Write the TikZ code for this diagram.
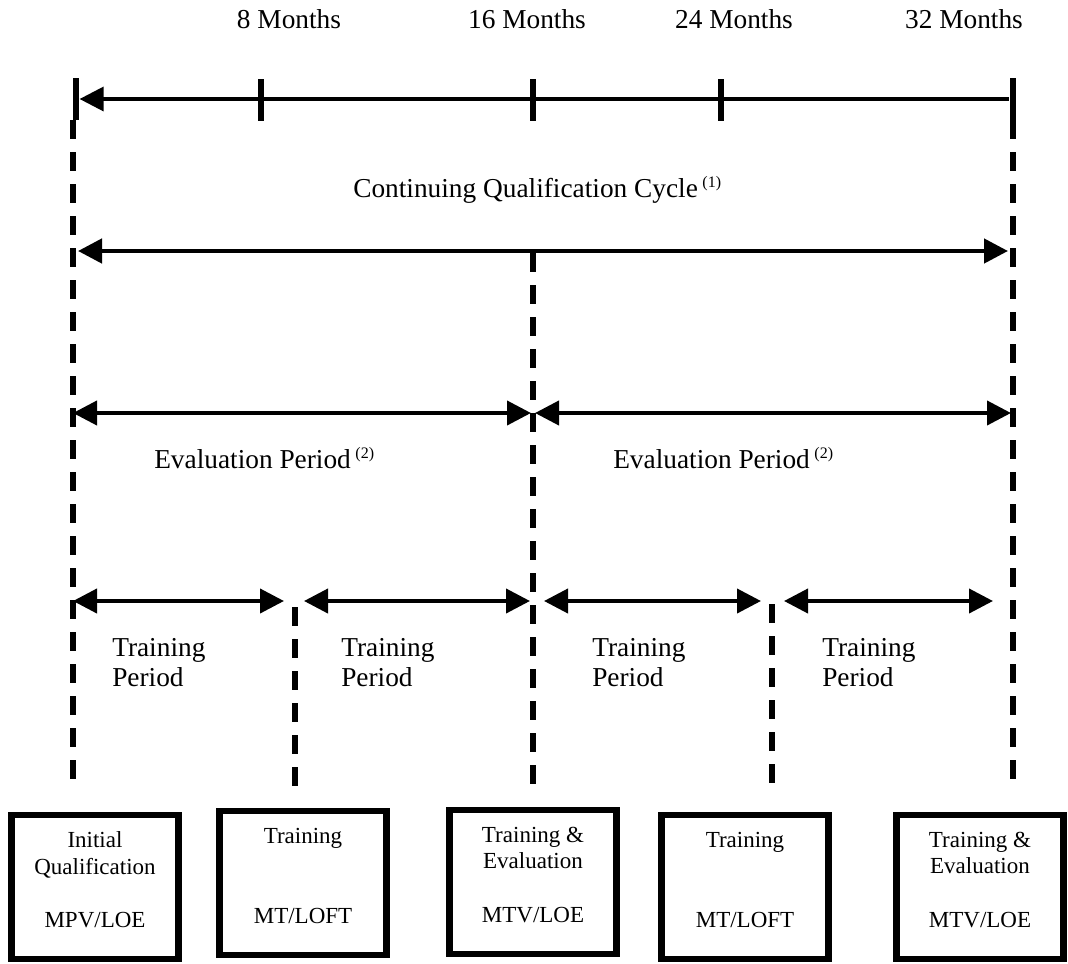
\documentclass[tikz,border=0pt]{standalone}
\usepackage{fontspec}
\setmainfont{Liberation Serif}
\usetikzlibrary{arrows.meta}
\newcommand{\supnote}[1]{\,\raisebox{7.5pt}{\fontsize{12}{14}\selectfont(#1)}}

\begin{document}
\begin{tikzpicture}[x=0.75pt,y=-0.75pt,font=\fontsize{20.5}{22.5}\selectfont,
    >={Triangle[length=18pt,width=18pt]},
    tickmark/.style={fill,inner sep=0pt,minimum width=5pt,minimum height=32pt},
    guide/.style={line width=5pt,dash pattern=on 14.5pt off 9.5pt},
    span/.style={<->,line width=3pt},
    lbl/.style={inner sep=0pt},
    stage/.style={draw,line width=5pt,minimum width=125pt,minimum height=108pt,
        align=center,font=\fontsize{17.25}{20}\selectfont,text depth=11pt}]

    \useasboundingbox (0,0) rectangle (1068,964);

    % month labels
    \node[lbl, anchor=base] (l8)  at (289,28) {8 Months};
    \node[lbl, anchor=base] (l16) at (527,28) {16 Months};
    \node[lbl, anchor=base] (l24) at (734,28) {24 Months};
    \node[lbl, anchor=base] (l32) at (964,28) {32 Months};

    % time line ticks
    \node[tickmark] (m0)  at (76,99) {};
    \node[tickmark] (m8)  at (261,100) {};
    \node[tickmark] (m16) at (533,100) {};
    \node[tickmark] (m24) at (721,100) {};
    \node[tickmark] (m32) at (1013,99) {};

    % ends of the dashed guides
    \coordinate (g0t)  at (73,120);   \coordinate (g0b)  at (73,782);
    \coordinate (g8t)  at (295,607);  \coordinate (g8b)  at (295,787);
    \coordinate (g16t) at (533,253);  \coordinate (g16b) at (533,790);
    \coordinate (g24t) at (772,604);  \coordinate (g24b) at (772,785);
    \coordinate (g32t) at (1013,120); \coordinate (g32b) at (1013,790);

    % ends of the spans
    \coordinate (c0) at (78,251);   \coordinate (c1) at (1008,251);
    \coordinate (e0) at (73,413);   \coordinate (e1) at (531,413);
    \coordinate (e2) at (535,413);  \coordinate (e3) at (1011,413);
    \coordinate (t0) at (73,601);   \coordinate (t1) at (284,601);
    \coordinate (t2) at (304,601);  \coordinate (t3) at (530,601);
    \coordinate (t4) at (544,601);  \coordinate (t5) at (761,601);
    \coordinate (t6) at (784,601);  \coordinate (t7) at (993,601);

    \path[guide]
    {
        (g0t) edge (g0b)
        (g8t) edge (g8b)
        (g16t) edge (g16b)
        (g24t) edge (g24b)
        (g32t) edge (g32b)
    };

    \draw[<-,line width=2.5pt] (m0) -- (m32);
    \draw[span,line width=3.4pt] (c0) -- (c1);
    \path[span]
    {
        (e0) edge (e1)
        (e2) edge (e3)
        (t0) edge (t1)
        (t2) edge (t3)
        (t4) edge (t5)
        (t6) edge (t7)
    };

    % span labels
    \node[lbl, anchor=base west] (cycle) at (353,197) {Continuing Qualification Cycle\supnote{1}};
    \node[lbl, anchor=base west] (eval1) at (154,468) {Evaluation Period\supnote{2}};
    \node[lbl, anchor=base west] (eval2) at (613,468) {Evaluation Period\supnote{2}};
    \node[lbl, anchor=north west, align=left] (train1) at (112,638) {Training\\Period};
    \node[lbl, anchor=north west, align=left] (train2) at (341,638) {Training\\Period};
    \node[lbl, anchor=north west, align=left] (train3) at (592,638) {Training\\Period};
    \node[lbl, anchor=north west, align=left] (train4) at (822,638) {Training\\Period};

    % stages
    \node[stage] (s0)  at (95,887)  {Initial\\Qualification\\[20pt]MPV/LOE};
    \node[stage] (s8)  at (303,883) {Training\\[40pt]MT/LOFT};
    \node[stage] (s16) at (533,882) {Training \&\\Evaluation\\[20pt]MTV/LOE};
    \node[stage] (s24) at (745,887) {Training\\[40pt]MT/LOFT};
    \node[stage] (s32) at (980,887) {Training \&\\Evaluation\\[20pt]MTV/LOE};
\end{tikzpicture}
\end{document}
